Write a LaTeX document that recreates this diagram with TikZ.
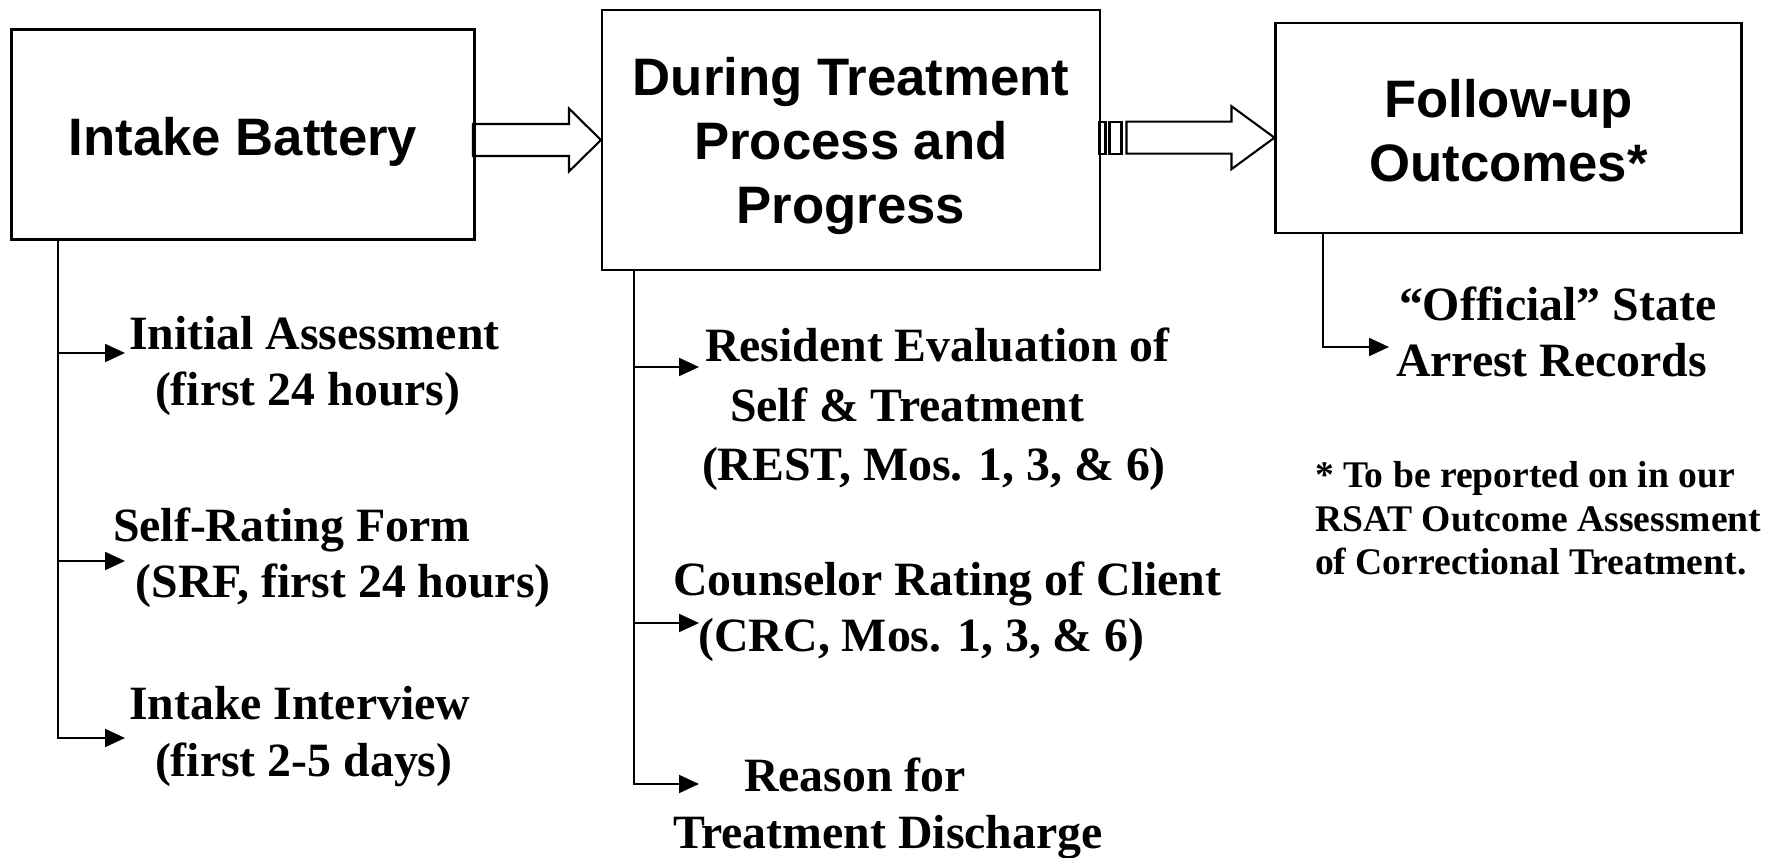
\documentclass[tikz,border=0pt]{standalone}
\usepackage{fontspec}
\setmainfont{Liberation Serif}
\setsansfont{Liberation Sans}
\usetikzlibrary{arrows.meta}
\newcommand{\hollowarrow}[3]{\draw (#1) -- ++(-#3,0.315) -- ++(0,-0.155) -- ++(-#2,0) -- ++(0,-0.32) -- ++(#2,0) -- ++(0,-0.155) -- cycle;}
\begin{document}
\begin{tikzpicture}[>={Triangle[length=2mm,width=1.8mm]},line width=0.6pt,
	box/.style={draw,inner sep=0pt,align=center,text depth=0pt,font=\sffamily\bfseries\fontsize{15}{18.2}\selectfont},
	item/.style={anchor=base west,inner sep=0pt,align=left,font=\bfseries\fontsize{13.6}{16.2}\selectfont}]
	\useasboundingbox (0,0) rectangle (17.87,-8.58);
	\node[box,text height=12.2pt,minimum width=4.63cm,minimum height=2.10cm] (intake) at (2.43,-1.345) {Intake Battery};
	\node[box,text height=47.4pt,minimum width=4.98cm,minimum height=2.60cm] (during) at (8.51,-1.40) {During Treatment\\Process and\\Progress};
	\node[box,text height=30.6pt,minimum width=4.66cm,minimum height=2.10cm] (follow) at (15.085,-1.277) {Follow-up\\Outcomes*};
	\hollowarrow{during.west}{0.96}{0.32}
	\hollowarrow{[yshift=-1mm]follow.west}{1.05}{0.43}
	\draw ([yshift=-1mm]follow.west) ++(-1.75,0.16) rectangle ++(0.06,-0.32);
	\draw ([yshift=-1mm]follow.west) ++(-1.65,0.16) rectangle ++(0.12,-0.32);
	\node[item] (initial) at (1.28,-4.06) {Initial Assessment\\\hspace*{0.26cm}(first 24 hours)};
	\node[item] (selfrating) at (1.12,-5.98) {Self-Rating Form\\\hspace*{0.225cm}(SRF, first 24 hours)};
	\node[item] (interview) at (1.28,-7.76) {Intake Interview\\\hspace*{0.26cm}(first 2-5 days)};
	\node[item,font=\bfseries\fontsize{13.6}{17}\selectfont] (rest) at (7.01,-4.81) {\hspace*{0.03cm}Resident Evaluation of\\\hspace*{0.28cm}Self \& Treatment\\(REST, Mos. 1, 3, \& 6)};
	\node[item] (crc) at (6.72,-6.52) {Counselor Rating of Client\\\hspace*{0.255cm}(CRC, Mos. 1, 3, \& 6)};
	\node[item] (reason) at (6.72,-8.48) {\hspace*{0.71cm}Reason for\\Treatment Discharge};
	\node[item] (official) at (13.95,-3.77) {\hspace*{0.03cm}“Official” State\\Arrest Records};
	\node[item,font=\bfseries\fontsize{10.7}{12.4}\selectfont] (note) at (13.14,-5.75) {* To be reported on in our\\RSAT Outcome Assessment\\of Correctional Treatment.};
	\coordinate (toinitial) at (1.25,-3.53);
	\coordinate (toselfrating) at (1.25,-5.61);
	\coordinate (tointerview) at (1.25,-7.38);
	\coordinate (torest) at (6.99,-3.67);
	\coordinate (tocrc) at (6.99,-6.23);
	\coordinate (toreason) at (6.99,-7.84);
	\coordinate (toofficial) at (13.89,-3.47);
	\draw[->] ([xshift=4.75mm]intake.south west) |- (toinitial);
	\draw[->] ([xshift=4.75mm]intake.south west) |- (toselfrating);
	\draw[->] ([xshift=4.75mm]intake.south west) |- (tointerview);
	\draw[->] ([xshift=3.3mm]during.south west) |- (torest);
	\draw[->] ([xshift=3.3mm]during.south west) |- (tocrc);
	\draw[->] ([xshift=3.3mm]during.south west) |- (toreason);
	\draw[->] ([xshift=4.85mm]follow.south west) |- (toofficial);
\end{tikzpicture}
\end{document}
